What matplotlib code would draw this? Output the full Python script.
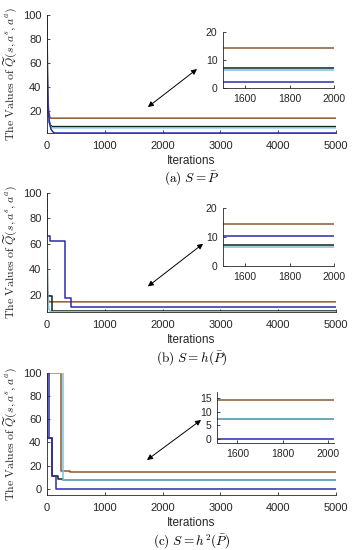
import matplotlib
matplotlib.use("Agg")
import matplotlib.pyplot as plt

plt.rcParams['font.family'] = ['Liberation Sans', 'DejaVu Sans']
plt.rcParams['mathtext.fontset'] = 'cm'

BROWN = '#8C5A2E'
BLACK = '#10241c'
LBLUE = '#7CC3E2'
BLUE = '#2B2BB0'
GRAY = '#262626'

# ---- panel (a): S = P_bar ----
a_brown_x = [0, 5, 10, 20, 30, 45, 60, 5000]
a_brown_y = [100, 70, 45, 28, 20, 16, 14.3, 14.3]
a_black_x = [0, 5, 10, 20, 35, 60, 90, 5000]
a_black_y = [100, 60, 35, 20, 12, 8.5, 7.3, 7.3]
a_lblue_x = [0, 5, 10, 20, 35, 60, 90, 5000]
a_lblue_y = [62, 45, 30, 18, 11, 7.5, 6.3, 6.3]
a_blue_x = [0, 5, 10, 20, 40, 70, 100, 130, 5000]
a_blue_y = [66, 50, 36, 22, 11, 5, 3, 2.0, 2.0]

# ---- panel (b): S = h(P_bar) ----
b_brown_x = [0, 5, 10, 20, 40, 5000]
b_brown_y = [100, 50, 25, 16, 14.3, 14.3]
b_black_x = [0, 8, 90, 5000]
b_black_y = [100, 19, 7.3, 7.3]
b_lblue_x = [0, 5, 15, 30, 60, 5000]
b_lblue_y = [100, 40, 18, 9, 6.5, 6.5]
b_blue_x = [0, 8, 50, 311, 410, 5000]
b_blue_y = [100, 66, 62.4, 17, 10.4, 10.4]

# ---- panel (c): S = h^2(P_bar) ----
c_brown_x = [0, 245, 400, 5000]
c_brown_y = [100, 15.6, 14.3, 14.3]
c_black_x = [0, 5, 90, 195, 282, 5000]
c_black_y = [100, 44, 11, 8, 7.4, 7.4]
c_lblue_x = [0, 282, 5000]
c_lblue_y = [100, 7.4, 7.4]
c_blue_x = [0, 35, 92, 150, 5000]
c_blue_y = [100, 44, 11, -0.3, -0.3]

captions = [r'$\mathrm{(a)}\ S = \bar{P}$',
            r'$\mathrm{(b)}\ S = h(\bar{P})$',
            r'$\mathrm{(c)}\ S = h^2(\bar{P})$']
ylabel = r'$\mathrm{The\ Values\ of\ }\widetilde{Q}(s,a^s,a^a)$'

main_pos = [[0.1328, 0.7582, 0.8164, 0.2145],
            [0.1328, 0.4327, 0.8164, 0.2164],
            [0.1328, 0.1000, 0.8164, 0.2218]]
inset_pos = [[0.630, 0.840, 0.3136, 0.1018],
             [0.630, 0.5164, 0.3136, 0.1055],
             [0.613, 0.1945, 0.3305, 0.0927]]
main_ylim = [(2.0, 100), (6.3, 100), (-5.5, 100)]
main_yticks = [[20, 40, 60, 80, 100], [20, 40, 60, 80, 100], [0, 20, 40, 60, 80, 100]]
inset_xlim = [(1500, 2000), (1500, 2000), (1510, 2025)]
inset_ylim = [(0, 20), (0, 20), (-1.6, 17.2)]
inset_yticks = [[0, 10, 20], [0, 10, 20], [0, 5, 10, 15]]
arrows = [((0.349, 0.22), (0.519, 0.542)),
          ((0.349, 0.215), (0.54, 0.574)),
          ((0.346, 0.287), (0.533, 0.615))]

panels = [
    [(a_brown_x, a_brown_y, BROWN, 'default'), (a_black_x, a_black_y, BLACK, 'default'),
     (a_lblue_x, a_lblue_y, LBLUE, 'default'), (a_blue_x, a_blue_y, BLUE, 'default')],
    [(b_brown_x, b_brown_y, BROWN, 'default'), (b_black_x, b_black_y, BLACK, 'steps-post'),
     (b_lblue_x, b_lblue_y, LBLUE, 'default'), (b_blue_x, b_blue_y, BLUE, 'steps-post')],
    [(c_brown_x, c_brown_y, BROWN, 'steps-post'), (c_black_x, c_black_y, BLACK, 'steps-post'),
     (c_lblue_x, c_lblue_y, LBLUE, 'steps-post'), (c_blue_x, c_blue_y, BLUE, 'steps-post')],
]


def style(ax, size):
    for s in ['top', 'right']:
        ax.spines[s].set_visible(False)
    for s in ['left', 'bottom']:
        ax.spines[s].set_linewidth(0.6)
        ax.spines[s].set_color(GRAY)
    ax.tick_params(direction='in', length=2.5, width=0.6, colors=GRAY,
                   labelsize=size, pad=4)


fig = plt.figure(figsize=(3.54, 5.5), dpi=100)

for i in range(3):
    ax = fig.add_axes(main_pos[i])
    for x, y, c, ds in panels[i]:
        ax.plot(x, y, color=c, lw=1.1, drawstyle=ds)
    ax.set_xlim(0, 5000)
    ax.set_ylim(*main_ylim[i])
    ax.set_xticks([0, 1000, 2000, 3000, 4000, 5000])
    ax.set_yticks(main_yticks[i])
    style(ax, 8)
    ax.tick_params(axis='x', pad=6)
    ax.set_xlabel('Iterations', fontsize=8.5, color=GRAY, labelpad=2.5)
    ax.set_ylabel(ylabel, fontsize=8.5, color=GRAY, labelpad=3)
    ax.text(0.5, -0.385, captions[i], transform=ax.transAxes, ha='center',
            va='center', fontsize=9.5)
    p0, p1 = arrows[i]
    ax.annotate('', xy=p0, xytext=p1, xycoords='axes fraction',
                arrowprops=dict(arrowstyle='<|-|>', color='k', lw=0.7,
                                mutation_scale=8, shrinkA=0, shrinkB=0))

    ins = fig.add_axes(inset_pos[i])
    for x, y, c, ds in panels[i]:
        ins.plot(x, y, color=c, lw=1.1, drawstyle=ds)
    ins.set_xlim(*inset_xlim[i])
    ins.set_ylim(*inset_ylim[i])
    ins.set_xticks([1600, 1800, 2000])
    ins.set_yticks(inset_yticks[i])
    style(ins, 7.5)

fig.savefig('out.png', dpi=100)
